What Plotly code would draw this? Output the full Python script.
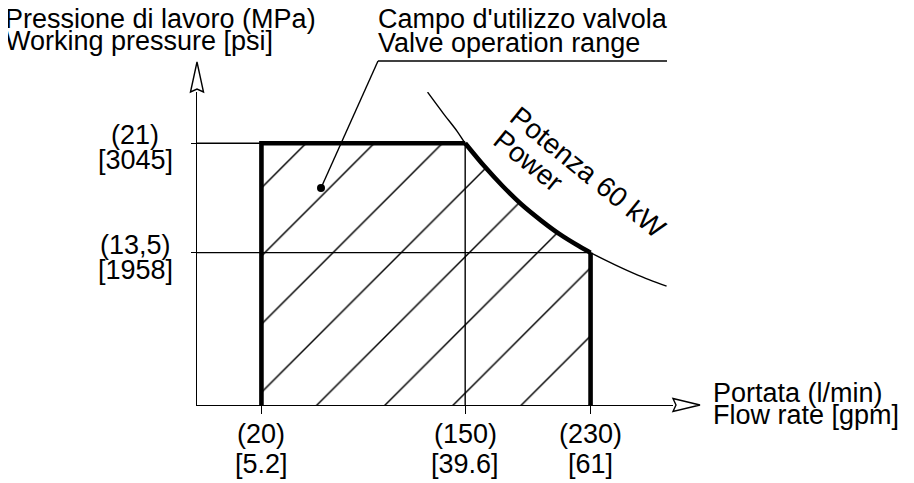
import plotly.graph_objects as go

# ---------------- data ----------------
FLOW_TICKS = [20, 150, 230]                       # l/min
FLOW_TICK_LPM = ["(20)", "(150)", "(230)"]
FLOW_TICK_GPM = ["[5.2]", "[39.6]", "[61]"]

PRESS_TICKS = [21, 13.5]                          # MPa
PRESS_TICK_MPA = ["(21)", "(13,5)"]
PRESS_TICK_PSI = ["[3045]", "[1958]"]

RANGE_MIN_FLOW = 20        # l/min
RANGE_KNEE_FLOW = 150      # l/min
RANGE_MAX_FLOW = 230       # l/min
RANGE_MAX_PRESS = 21       # MPa
RANGE_KNEE_PRESS = 13.5    # MPa

# 60 kW power curve (flow l/min, pressure MPa)
POWER_FLOW = [126, 136, 145, 150, 162, 174, 186, 198.5, 210.5, 222.5, 230, 246, 260.5, 278.5]
POWER_PRESS = [24.5, 23.05, 21.8, 21.0, 19.45, 18.05, 16.8, 15.7, 14.75, 13.95, 13.5, 12.65, 11.95, 11.2]

# ---------------- layout constants ----------------
OFF = 8                      # page body margin of the html page
W, H = 914 - OFF, 483 - OFF
L, R, T, B = 197 - OFF, 241, 92 - OFF, 78
PW, PH = W - L - R, H - T - B
X_RANGE = [-21.12, 282.6]
Y_RANGE = [3.06, 24.51]
FONT = "Liberation Sans, Arial, Helvetica, sans-serif"
FS = 27
THIN = 1.4
THICK = 4.6
HATCH_SIZE = 48.2
HATCH_DX = 24.0            # pixel shift of hatch pattern origin


def pxx(px):
    """page x pixel -> paper fraction"""
    return (px - OFF - L) / PW


def pxy(py):
    """page y pixel -> paper fraction"""
    return (H - B - (py - OFF)) / PH


x_scale = PW / (X_RANGE[1] - X_RANGE[0])

# curve part that bounds the operating range
curve = [(f, p) for f, p in zip(POWER_FLOW, POWER_PRESS) if RANGE_KNEE_FLOW <= f <= RANGE_MAX_FLOW]
curve_f = [c[0] for c in curve]
curve_p = [c[1] for c in curve]

region_x = [RANGE_MIN_FLOW, RANGE_MIN_FLOW] + curve_f + [RANGE_MAX_FLOW, RANGE_MIN_FLOW]
region_y = [Y_RANGE[0], RANGE_MAX_PRESS] + curve_p + [Y_RANGE[0], Y_RANGE[0]]

fig = go.Figure()


def line_trace(x, y, width, shape="linear"):
    return go.Scatter(x=x, y=y, mode="lines",
                      line=dict(color="black", width=width, shape=shape, smoothing=0.8),
                      showlegend=False, hoverinfo="skip")


# thin reference lines
fig.add_trace(line_trace([X_RANGE[0], RANGE_KNEE_FLOW], [RANGE_MAX_PRESS] * 2, THIN))
fig.add_trace(line_trace([X_RANGE[0], RANGE_MAX_FLOW], [RANGE_KNEE_PRESS] * 2, THIN))
fig.add_trace(line_trace([RANGE_KNEE_FLOW] * 2, [Y_RANGE[0], RANGE_MAX_PRESS], THIN))

# thin 60 kW power curve
fig.add_trace(line_trace(POWER_FLOW, POWER_PRESS, THIN, "spline"))

# thick outline of operating range
fig.add_trace(line_trace([RANGE_MIN_FLOW, RANGE_MIN_FLOW, RANGE_KNEE_FLOW],
                         [Y_RANGE[0], RANGE_MAX_PRESS, RANGE_MAX_PRESS], THICK))
fig.add_trace(line_trace(curve_f, curve_p, THICK, "spline"))
fig.add_trace(line_trace([RANGE_MAX_FLOW, RANGE_MAX_FLOW], [RANGE_KNEE_PRESS, Y_RANGE[0]], THICK))

# hatched operating range (on an invisible overlaid subplot to set hatch phase)
fig.add_trace(go.Scatter(
    x=region_x, y=region_y,
    xaxis="x2", yaxis="y2", mode="lines", line=dict(width=0, color="rgba(0,0,0,0)"),
    fill="toself", fillcolor="rgba(0,0,0,0)",
    fillpattern=dict(shape="/", size=HATCH_SIZE, solidity=0.03, fgopacity=1,
                     fgcolor="black", bgcolor="rgba(0,0,0,0)", fillmode="overlay"),
    hoverinfo="skip", showlegend=False))

ann = []
# x tick labels
for f, a, b in zip(FLOW_TICKS, FLOW_TICK_LPM, FLOW_TICK_GPM):
    ann.append(dict(x=f, xref="x", y=pxy(434), yref="paper", text=a, showarrow=False,
                    xanchor="center", yanchor="middle"))
    ann.append(dict(x=f, xref="x", y=pxy(464), yref="paper", text=b, showarrow=False,
                    xanchor="center", yanchor="middle"))
# y tick labels
for p, a, b in zip(PRESS_TICKS, PRESS_TICK_MPA, PRESS_TICK_PSI):
    ann.append(dict(x=pxx(135), xref="paper", y=p, yref="y", yshift=8, text=a, showarrow=False,
                    xanchor="center", yanchor="middle"))
    ann.append(dict(x=pxx(135), xref="paper", y=p, yref="y", yshift=-17, text=b, showarrow=False,
                    xanchor="center", yanchor="middle"))

texts = [
    ("Pressione di lavoro (MPa)", 3, 18.5),
    ("Working pressure [psi]", 3, 41.5),
    ("Campo d'utilizzo valvola", 376, 19),
    ("Valve operation range", 376, 42.5),
    ("Portata (l/min)", 711, 393),
    ("Flow rate [gpm]", 711, 415),
]
for t, x, y in texts:
    ann.append(dict(x=pxx(x), xref="paper", y=pxy(y), yref="paper", text=t, showarrow=False,
                    xanchor="left", yanchor="middle"))

ann.append(dict(x=pxx(588), xref="paper", y=pxy(172), yref="paper", text="Potenza 60 kW",
                showarrow=False, textangle=39, xanchor="center", yanchor="middle",
                font=dict(size=28)))
ann.append(dict(x=pxx(528), xref="paper", y=pxy(160), yref="paper", text="Power",
                showarrow=False, textangle=39, xanchor="center", yanchor="middle",
                font=dict(size=28)))

shapes = [
    # leader line for "Campo d'utilizzo valvola"
    dict(type="line", xref="paper", yref="paper", x0=pxx(378), y0=pxy(61), x1=pxx(667), y1=pxy(61),
         line=dict(color="black", width=THIN)),
    dict(type="line", xref="paper", yref="paper", x0=pxx(378), y0=pxy(61), x1=pxx(321), y1=pxy(188),
         line=dict(color="black", width=THIN)),
    dict(type="circle", xref="paper", yref="paper", x0=pxx(317), y0=pxy(184), x1=pxx(325), y1=pxy(192),
         fillcolor="black", line=dict(color="black", width=0)),
    # open arrowheads at axis ends
    dict(type="path", xref="paper", yref="paper", xsizemode="pixel", ysizemode="pixel",
         xanchor=0, yanchor=1,
         path="M-6.5,0 L0,30 L6.5,0 L0,3 Z", fillcolor="white", line=dict(color="black", width=THIN)),
    dict(type="path", xref="paper", yref="paper", xsizemode="pixel", ysizemode="pixel",
         xanchor=1, yanchor=0,
         path="M0,6.5 L27,0 L0,-6.5 L3,0 Z", fillcolor="white", line=dict(color="black", width=THIN)),
]

fig.update_layout(
    width=W, height=H,
    margin=dict(l=L, r=R, t=T, b=B, pad=0),
    paper_bgcolor="white", plot_bgcolor="rgba(0,0,0,0)",
    font=dict(family=FONT, size=FS, color="black"),
    showlegend=False,
    xaxis=dict(range=X_RANGE, showgrid=False, zeroline=False, showline=True, linecolor="black",
               linewidth=THIN, ticks="outside", ticklen=8, tickwidth=THIN, tickcolor="black",
               tickvals=FLOW_TICKS, showticklabels=False, fixedrange=True),
    yaxis=dict(range=Y_RANGE, showgrid=False, zeroline=False, showline=True, linecolor="black",
               linewidth=THIN, ticks="outside", ticklen=5, tickwidth=THIN, tickcolor="black",
               tickvals=PRESS_TICKS, showticklabels=False, fixedrange=True),
    xaxis2=dict(domain=[HATCH_DX / PW, 1], range=[X_RANGE[0] + HATCH_DX / x_scale, X_RANGE[1]],
                visible=False, anchor="y2", fixedrange=True),
    yaxis2=dict(domain=[0, 1], range=Y_RANGE, visible=False, anchor="x2", fixedrange=True),
    annotations=ann,
    shapes=shapes,
)

fig.write_html("out.html")
